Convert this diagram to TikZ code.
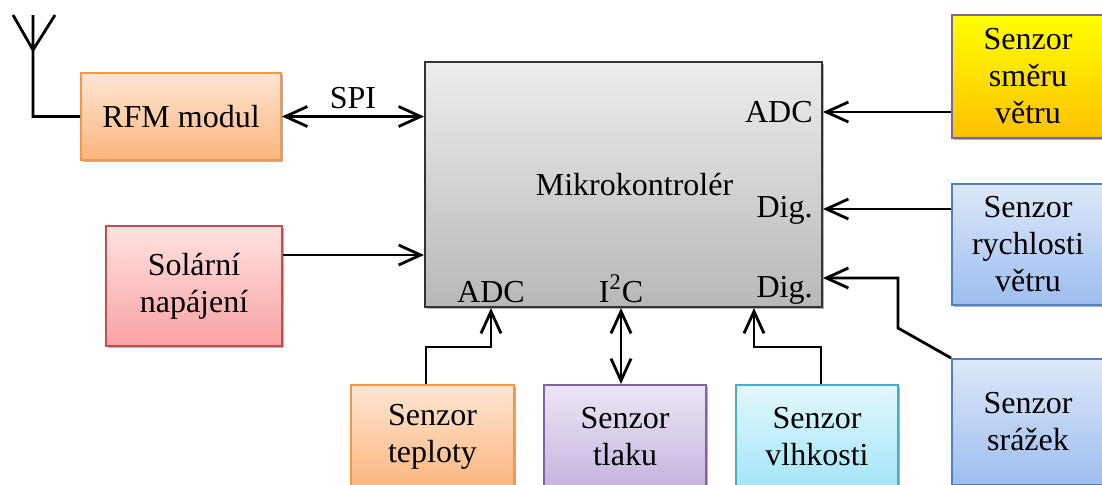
\documentclass[tikz,border=0pt]{standalone}
\usepackage{fontspec}
\setmainfont{Liberation Serif}
\usetikzlibrary{arrows.meta,shadows}

\definecolor{orgtop}{HTML}{FEE6D4}
\definecolor{orgbot}{HTML}{FBB57D}
\definecolor{orgline}{HTML}{F79646}
\definecolor{redtop}{HTML}{FFE2E2}
\definecolor{redbot}{HTML}{F8A2A2}
\definecolor{redline}{HTML}{C0504D}
\definecolor{yeltop}{HTML}{FFFF00}
\definecolor{yelbot}{HTML}{FFC000}
\definecolor{violine}{HTML}{8064A2}
\definecolor{blutop}{HTML}{DDE8F8}
\definecolor{blubot}{HTML}{9DBDF0}
\definecolor{bluline}{HTML}{4F81BD}
\definecolor{viotop}{HTML}{ECE6F5}
\definecolor{viobot}{HTML}{C5B3DE}
\definecolor{cyatop}{HTML}{E2F8FD}
\definecolor{cyabot}{HTML}{A2E5F8}
\definecolor{cyaline}{HTML}{4BACC6}

\begin{document}
\begin{tikzpicture}[x=0.5pt,y=-0.5pt,
  font=\fontsize{16}{18.5}\selectfont,
  >={Straight Barb[length=11pt,width=10pt]},
  block/.style={draw, line width=1pt, align=center, inner sep=0pt,
    drop shadow={shadow xshift=1pt,shadow yshift=-1pt,fill=black,opacity=0.3}},
  wire/.style={line width=1.4pt},
  port/.style={inner sep=5pt}]
\clip (0,0) rectangle (1102,484);

% main block
\node[block, draw=black!80, top color=black!7, bottom color=black!28,
  minimum width=198.5pt, minimum height=122.5pt] (mcu) at (623.5,184.5) {\hspace*{11pt}Mikrokontrolér};

% left side
\node[block, draw=orgline, top color=orgtop, bottom color=orgbot,
  minimum width=100pt, minimum height=43.5pt] (rfm) at (181,116.5) {RFM modul};
\node[block, draw=redline, top color=redtop, bottom color=redbot,
  minimum width=88pt, minimum height=60pt] (solar) at (194,286) {Solární\\napájení};

% right side sensors
\node[block, draw=violine, top color=yeltop, bottom color=yelbot,
  minimum width=76pt, minimum height=61.5pt] (wdir) at (1028,76.5) {Senzor\\směru\\větru};
\node[block, draw=bluline, top color=blutop, bottom color=blubot,
  minimum width=76pt, minimum height=60.5pt] (wspeed) at (1028,244.5) {Senzor\\rychlosti\\větru};
\node[block, draw=bluline, top color=blutop, bottom color=blubot,
  minimum width=76pt, minimum height=63pt] (rain) at (1028,422) {Senzor\\srážek};

% bottom sensors
\node[block, draw=orgline, top color=orgtop, bottom color=orgbot,
  minimum width=81.5pt, minimum height=52pt] (temp) at (432.5,437) {Senzor\\teploty};
\node[block, draw=violine, top color=viotop, bottom color=viobot,
  minimum width=81pt, minimum height=52pt] (press) at (625,437) {Senzor\\tlaku};
\node[block, draw=cyaline, top color=cyatop, bottom color=cyabot,
  minimum width=81pt, minimum height=52pt] (hum) at (817,437) {Senzor\\vlhkosti};

% port labels
\node[port, anchor=base east] (ladcr) at (mcu.east |- 0,122) {ADC};
\node[port, anchor=base east] (ldigr) at (mcu.east |- 0,217) {Dig.};
\node[port, anchor=base east] (ldigb) at (mcu.east |- 0,297) {Dig.};
\node[anchor=base] (ladcb) at (491,302) {ADC};
\node[anchor=base] (li2c) at (621,302) {I\textsuperscript{2}C};

% antenna
\coordinate (ant) at (33,50);
\draw[wire] (13,15) -- (ant) -- (55,15) (33,15) -- (ant) |- (rfm.west);

% connections
\draw[wire,<->] (rfm.east) -- (mcu.west |- rfm.east) node[midway,above] (lspi) {SPI};
\draw[wire,->] (solar.east |- 0,255) -- (mcu.west |- 0,255);
\draw[wire,->] (wdir.west |- 0,112) -- (mcu.east |- 0,112);
\draw[wire,->] (wspeed.west |- 0,209) -- (mcu.east |- 0,209);
\draw[wire,->] (rain.north west) -- (898,328) -- (898,278) -- (mcu.east |- 0,278);
\draw[wire,->] (temp.north -| 426,0) |- (491,347) -- (mcu.south -| 491,0);
\draw[wire,<->] (press.north -| 621,0) -- (mcu.south -| 621,0);
\draw[wire,->] (hum.north -| 821,0) |- (754,347) -- (mcu.south -| 754,0);

\end{tikzpicture}
\end{document}
